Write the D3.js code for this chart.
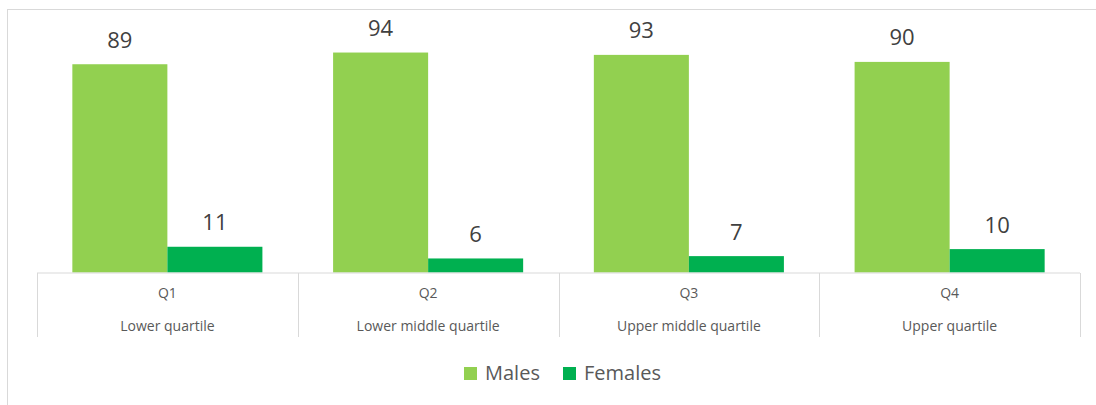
<!DOCTYPE html>
<html>
<head>
<meta charset="utf-8">
<script src="https://cdn.jsdelivr.net/npm/d3@7"></script>
<style>
  body { margin: 0; background: #fff; }
  svg { display: block; font-family: "Open Sans", sans-serif; }
</style>
</head>
<body>
<svg width="1096" height="405"></svg>
<script>
// values
var quartiles = ["Q1", "Q2", "Q3", "Q4"];
var quartileNames = ["Lower quartile", "Lower middle quartile", "Upper middle quartile", "Upper quartile"];
var series = ["Males", "Females"];
var males = [89, 94, 93, 90];
var females = [11, 6, 7, 10];
var colors = ["#92d050", "#00b050"];

var svg = d3.select("svg"),
    width = +svg.attr("width"),
    height = +svg.attr("height");

// chart border (runs off right and bottom like the source)
svg.append("rect")
    .attr("x", 7.5).attr("y", 9.5)
    .attr("width", width + 20).attr("height", height + 20)
    .attr("fill", "none")
    .attr("stroke", "#d9d9d9");

var baseY = 272.5;

var x0 = d3.scaleBand()
    .domain(quartiles)
    .range([37, 1080]);

var x1 = d3.scaleBand()
    .domain(series)
    .range([0, x0.bandwidth()])
    .paddingOuter(0.372);

var y = d3.scaleLinear()
    .domain([0, 100])
    .range([baseY, 38.5]);

var rows = quartiles.map(function (q, i) {
    return { q: q, values: [males[i], females[i]] };
});

var group = svg.append("g")
    .selectAll("g")
    .data(rows)
    .enter().append("g")
    .attr("transform", function (d) { return "translate(" + x0(d.q) + ",0)"; });

group.selectAll("rect")
    .data(function (d) {
        return d.values.map(function (v, j) { return { s: series[j], v: v, c: colors[j] }; });
    })
    .enter().append("rect")
    .attr("x", function (d) { return x1(d.s); })
    .attr("y", function (d) { return y(d.v); })
    .attr("width", x1.bandwidth())
    .attr("height", function (d) { return baseY - y(d.v); })
    .attr("fill", function (d) { return d.c; });

group.selectAll("text.val")
    .data(function (d) {
        return d.values.map(function (v, j) { return { s: series[j], v: v }; });
    })
    .enter().append("text")
    .attr("class", "val")
    .attr("x", function (d) { return x1(d.s) + x1.bandwidth() / 2; })
    .attr("y", function (d) { return y(d.v) - 16.5; })
    .attr("text-anchor", "middle")
    .attr("font-size", 22)
    .attr("fill", "#404040")
    .text(function (d) { return d.v; });

// category axis
var axis = svg.append("g")
    .attr("transform", "translate(0," + (baseY + 0.5) + ")")
    .call(d3.axisBottom(x0).tickSize(0).tickPadding(0).tickFormat(""))
    .attr("font-family", "'Open Sans', sans-serif");

axis.select(".domain")
    .attr("stroke", "#d9d9d9")
    .attr("d", "M" + x0.range()[0] + ",0H" + x0.range()[1]);

var edges = quartiles.map(function (q) { return x0(q); }).concat([x0.range()[1]]);
axis.selectAll("line.div")
    .data(edges)
    .enter().append("line")
    .attr("class", "div")
    .attr("x1", function (d) { return Math.round(d) + 0.5; })
    .attr("x2", function (d) { return Math.round(d) + 0.5; })
    .attr("y1", 0)
    .attr("y2", 64)
    .attr("stroke", "#d9d9d9");

axis.selectAll(".tick text").remove();
axis.selectAll(".tick").each(function (d, i) {
    var t = d3.select(this);
    t.append("text")
        .attr("y", 25)
        .attr("text-anchor", "middle")
        .attr("font-size", 14)
        .attr("fill", "#595959")
        .text(d);
    t.append("text")
        .attr("y", 58)
        .attr("text-anchor", "middle")
        .attr("font-size", 14)
        .attr("fill", "#595959")
        .text(quartileNames[i]);
});

// legend
var legendX = [464, 563];
var legend = svg.append("g")
    .selectAll("g")
    .data(series)
    .enter().append("g")
    .attr("transform", function (d, i) { return "translate(" + legendX[i] + ",367)"; });

legend.append("rect")
    .attr("width", 13)
    .attr("height", 13)
    .attr("fill", function (d, i) { return colors[i]; });

legend.append("text")
    .attr("x", 21)
    .attr("y", 13)
    .attr("font-size", 20)
    .attr("fill", "#595959")
    .text(function (d) { return d; });
</script>
</body>
</html>
